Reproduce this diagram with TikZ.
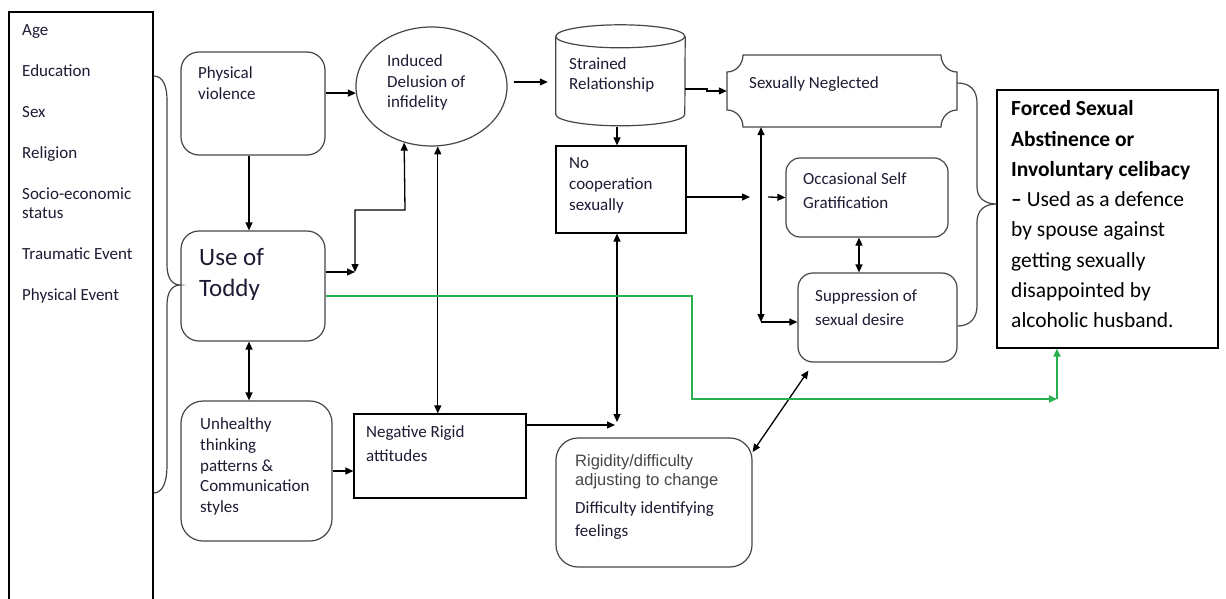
\documentclass[tikz,border=0pt]{standalone}
\usepackage{fontspec}
\setmainfont{Carlito}
\newfontfamily\arialfont{Liberation Sans}
\usetikzlibrary{arrows.meta,shapes.geometric,calc}

\definecolor{ink}{RGB}{28,28,52}
\definecolor{edge}{RGB}{70,70,70}
\definecolor{arialink}{RGB}{70,70,70}
\definecolor{linkgreen}{RGB}{40,176,80}

\tikzset{
  txt/.style={inner sep=0pt, anchor=north west, align=left, text=ink, yshift=-3pt,
    font=\fontsize{17}{21}\selectfont},
  rbox/.style={draw=edge, line width=1.2pt, rounded corners=18pt, inner sep=0pt},
  sbox/.style={draw=black, line width=1.2pt, inner sep=0pt},
  plain/.style={inner sep=0pt},
  tip/.tip={Triangle[length=8pt,width=7pt]},
  arr/.style={line width=1.3pt, -tip},
  darr/.style={line width=1.3pt, tip-tip},
  brace/.style={draw=edge, line width=1.2pt},
  glink/.style={draw=linkgreen, line width=1.8pt}
}

\begin{document}
\begin{tikzpicture}[x=1pt,y=-1pt]
\useasboundingbox[fill=white] (0,0) rectangle (1226,599);

% ---------- factor list on the left ----------
\node[sbox, minimum width=144, minimum height=610] (lb) at (81,317) {};
\node[txt, font=\fontsize{17}{19.5}\selectfont] (lbt) at (22,21)
  {Age\\[21.5pt] Education\\[21.5pt] Sex\\[21.5pt] Religion\\[21.5pt]
   Socio-economic\\ status\\[21.5pt] Traumatic Event\\[21.5pt] Physical Event};

% ---------- left column ----------
\node[rbox, minimum width=144, minimum height=103] (pv) at (253,103.5) {};
\node[txt] at (198,63.5) {Physical\\ violence};

\node[rbox, minimum width=144, minimum height=110] (ut) at (253,286) {};
\node[txt, font=\fontsize{25}{31}\selectfont] at (199,245.5) {Use of\\ Toddy};

\node[rbox, rounded corners=22pt, minimum width=151, minimum height=140] (uh) at (256.5,471) {};
\node[txt, font=\fontsize{17}{20.75}\selectfont] at (200,414.5)
  {Unhealthy\\ thinking\\ patterns \&\\ Communication\\ styles};

% ---------- middle ----------
\node[ellipse, draw=edge, line width=1.2pt, minimum width=151, minimum height=119, inner sep=0pt] (del) at (431.5,86.5) {};
\node[txt, font=\fontsize{17}{20.5}\selectfont] at (387,51.5) {Induced\\ Delusion of\\ infidelity};

\node[sbox, minimum width=172, minimum height=84] (nr) at (440,456) {};
\node[txt, font=\fontsize{17}{24}\selectfont] at (366,422.5) {Negative Rigid\\ attitudes};

% strained relationship (cylinder)
\node[plain, minimum width=129, minimum height=102] (sr) at (620.5,76) {};
\draw[draw=edge, line width=1.2pt]
  (sr.north west) ++(0,11.5) coordinate (srtl)
  (srtl) arc[start angle=180, end angle=-180, x radius=64.5, y radius=11.5];
\draw[draw=edge, line width=1.2pt]
  (srtl) -- ++(0,78)
  arc[start angle=180, end angle=360, x radius=64.5, y radius=-11.5]
  -- ($(sr.north east)+(0,11.5)$);
\node[txt, font=\fontsize{17}{20}\selectfont] at (569,54.5) {Strained\\ Relationship};

\node[sbox, minimum width=130, minimum height=87] (nc) at (621,189.5) {};
\node[txt] at (569,154.5) {No\\ cooperation\\ sexually};

\node[rbox, rounded corners=22pt, minimum width=196, minimum height=129] (rg) at (654,502.5) {};
\node[txt, text=arialink, font=\arialfont\fontsize{16.5}{19}\selectfont] at (575,451.5)
  {Rigidity/difficulty\\ adjusting to change};
\node[txt, font=\fontsize{17}{23}\selectfont] at (575,498.5) {Difficulty identifying\\ feelings};

% ---------- right column ----------
\node[plain, minimum width=230, minimum height=72] (sn) at (842,91) {};
\draw[draw=edge, line width=1.2pt]
  (743,55) -- (941,55)
  .. controls (941,64.4) and (948.2,72) .. (957,72)
  -- (957,110)
  .. controls (948.2,110) and (941,117.6) .. (941,127)
  -- (743,127)
  .. controls (743,117.6) and (735.8,110) .. (727,110)
  -- (727,72)
  .. controls (735.8,72) and (743,64.4) .. (743,55) -- cycle;
\node[txt] at (749,73.5) {Sexually Neglected};

\node[rbox, rounded corners=14pt, minimum width=162, minimum height=79] (og) at (867,197.5) {};
\node[txt, font=\fontsize{17}{24}\selectfont] at (803,169.5) {Occasional Self\\ Gratification};

\node[rbox, rounded corners=15pt, minimum width=159, minimum height=89] (sup) at (877.5,317.5) {};
\node[txt, font=\fontsize{17}{24}\selectfont] at (815,286.5) {Suppression of\\ sexual desire};

\node[sbox, minimum width=221, minimum height=258] (fb) at (1107.5,219) {};
\node[txt, text=black, font=\fontsize{21.5}{30.3}\selectfont] at (1011,97.5)
  {\textbf{Forced Sexual}\\ \textbf{Abstinence or}\\ \textbf{Involuntary celibacy}\\
   \textbf{–} Used as a defence\\ by spouse against\\ getting sexually\\
   disappointed by\\ alcoholic husband.};

% ---------- braces ----------
\draw[brace] (lb.east |- 0,76)
  .. controls (163,76) and (167,86) .. (167,100) -- (167,265)
  .. controls (167,278) and (172,285) .. (ut.west |- 0,285)
  .. controls (172,285) and (167,292) .. (167,305) -- (167,466)
  .. controls (167,481) and (163,493) .. (lb.east |- 0,493);
\draw[brace] (sn.east |- 0,83)
  .. controls (970,83) and (977,90) .. (977,103) -- (977,187)
  .. controls (977,198) and (985,204) .. (fb.west |- 0,204)
  .. controls (985,204) and (977,210) .. (977,222) -- (977,306)
  .. controls (977,318) and (970,326) .. (sup.east |- 0,326);

% ---------- connectors ----------
\draw[arr] (pv.east |- del.185) -- (del.185);
\draw[arr] ($(pv.south)+(-4,0)$) -- ($(ut.north)+(-4,0)$);
\draw[darr] ($(ut.south)+(-4,0)$) -- ($(uh.north)+(-7.5,0)$);
\draw[arr] (uh.east) -- (uh.east -| nr.west);

\coordinate (j1) at (355,272);
\draw[arr] ($(ut.east)+(0,-14)$) -- (j1);
\draw[darr] (j1) -- (355,210) -- (405,210) -- (del.244.6);

\draw[darr] (del.276.3) -- (del.276.3 |- nr.north);

\draw[arr] ($(del.east)+(6,-4.5)$) -- ($(sr.west)+(-8,6)$);
\draw[arr] ($(sr.south)+(-3.5,0)$) -- ($(nc.north)+(-4,0)$);
\draw[arr] ($(sr.east)+(0,13)$) -- (707,89) -- (707,91) -- (sn.west);

\coordinate (j2) at (617,422);
\coordinate (j2h) at (615,425);
\draw[arr] ($(nr.east)+(0,-31)$) -- (j2h);
\draw[darr] ($(nc.south)+(-4,0)$) -- (j2);

\draw[arr] ($(nc.east)+(0,7.5)$) -- (750,197);
\draw[arr] (768,197) -- (og.west);

\coordinate (j3) at (761,322);
\draw[darr] ($(sn.south)+(-81,0)$) -- (j3);
\draw[arr] (j3) -- (j3 -| sup.west);
\draw[darr] ($(og.south)+(-8,0)$) -- ($(sup.north)+(-18.5,0)$);

\draw[darr] ($(rg.east)+(0,-50.5)$) -- ($(sup.south west)+(11,8)$);

% alcohol use feeding directly into the outcome
\coordinate (g1) at (692,399);
\coordinate (g2) at (1057,399);
\draw[glink, -tip] ($(ut.east)+(0,10)$) -- (g1 |- 0,296) -- (g1) -- (g2);
\draw[glink, -tip] (g2) -- (g2 |- fb.south);

\end{tikzpicture}
\end{document}
